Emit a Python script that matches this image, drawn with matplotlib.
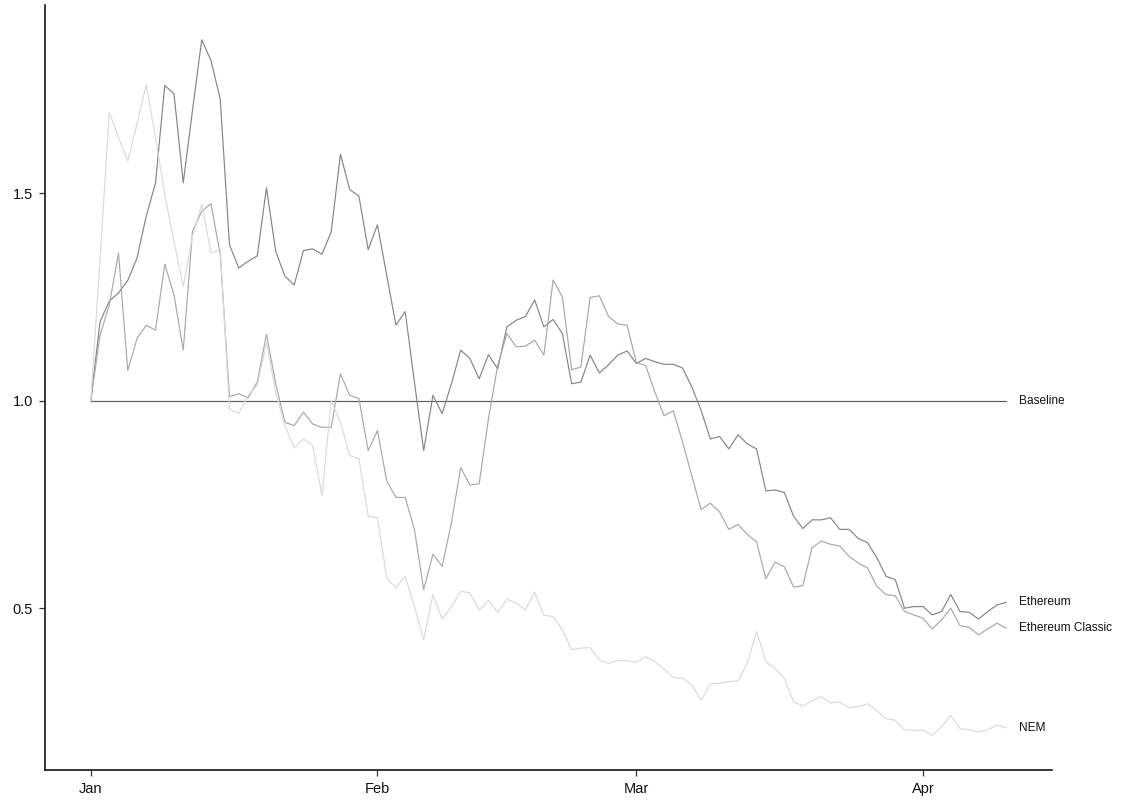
import numpy as np
import pandas as pd
import matplotlib
matplotlib.use('Agg')
import matplotlib.pyplot as plt
import matplotlib.dates as mdates

plt.rcParams['font.family'] = ['Liberation Sans', 'DejaVu Sans']

# daily values relative to 1 Jan 2018
dates = pd.date_range('2018-01-01', periods=100, freq='D')

ethereum = [
    1.0, 1.19, 1.24, 1.26, 1.29, 1.344, 1.445, 1.525, 1.76, 1.74,
    1.525, 1.70, 1.87, 1.82, 1.727, 1.376, 1.32, 1.336, 1.349, 1.513,
    1.36, 1.30, 1.279, 1.362, 1.366, 1.353, 1.407, 1.594, 1.509, 1.493,
    1.364, 1.424, 1.303, 1.182, 1.215, 1.045, 0.88, 1.013, 0.969, 1.041,
    1.122, 1.102, 1.053, 1.111, 1.077, 1.178, 1.194, 1.203, 1.243, 1.178,
    1.196, 1.162, 1.041, 1.045, 1.11, 1.067, 1.087, 1.11, 1.12, 1.09,
    1.102, 1.094, 1.088, 1.088, 1.079, 1.033, 0.977, 0.908, 0.914, 0.884,
    0.918, 0.896, 0.884, 0.783, 0.785, 0.779, 0.722, 0.692, 0.713, 0.713,
    0.718, 0.69, 0.69, 0.668, 0.658, 0.622, 0.577, 0.569, 0.50, 0.504,
    0.504, 0.484, 0.492, 0.533, 0.492, 0.49, 0.474, 0.492, 0.508, 0.514,
]

ethereum_classic = [
    1.0, 1.158, 1.231, 1.356, 1.073, 1.15, 1.182, 1.17, 1.329, 1.255,
    1.122, 1.408, 1.457, 1.475, 1.352, 1.01, 1.017, 1.007, 1.045, 1.16,
    1.041, 0.948, 0.94, 0.973, 0.944, 0.936, 0.936, 1.065, 1.013, 1.005,
    0.88, 0.928, 0.807, 0.767, 0.767, 0.69, 0.545, 0.63, 0.601, 0.706,
    0.839, 0.797, 0.80, 0.956, 1.085, 1.162, 1.13, 1.132, 1.146, 1.11,
    1.291, 1.25, 1.075, 1.081, 1.249, 1.253, 1.203, 1.185, 1.182, 1.092,
    1.085, 1.021, 0.964, 0.976, 0.90, 0.819, 0.738, 0.753, 0.732, 0.69,
    0.702, 0.678, 0.66, 0.571, 0.611, 0.60, 0.551, 0.554, 0.646, 0.662,
    0.654, 0.65, 0.625, 0.609, 0.597, 0.553, 0.533, 0.53, 0.492, 0.484,
    0.476, 0.45, 0.472, 0.50, 0.458, 0.454, 0.436, 0.45, 0.464, 0.452,
]

nem = [
    1.0, 1.34, 1.695, 1.634, 1.578, 1.667, 1.762, 1.634, 1.497, 1.384,
    1.275, 1.396, 1.473, 1.356, 1.364, 0.98, 0.969, 1.013, 1.037, 1.14,
    1.02, 0.94, 0.886, 0.908, 0.892, 0.771, 1.0, 0.948, 0.868, 0.86,
    0.722, 0.718, 0.573, 0.549, 0.577, 0.504, 0.424, 0.533, 0.474, 0.504,
    0.541, 0.537, 0.495, 0.519, 0.49, 0.522, 0.512, 0.496, 0.539, 0.483,
    0.48, 0.448, 0.40, 0.404, 0.405, 0.375, 0.367, 0.374, 0.374, 0.37,
    0.383, 0.371, 0.353, 0.333, 0.331, 0.315, 0.278, 0.317, 0.319, 0.323,
    0.325, 0.367, 0.444, 0.371, 0.355, 0.331, 0.274, 0.265, 0.277, 0.287,
    0.272, 0.274, 0.26, 0.263, 0.27, 0.253, 0.234, 0.23, 0.207, 0.206,
    0.206, 0.194, 0.214, 0.242, 0.21, 0.207, 0.202, 0.207, 0.218, 0.212,
]

baseline = [1.0] * len(dates)

series_names = ['Baseline', 'Ethereum', 'Ethereum Classic', 'NEM']
series_values = [baseline, ethereum, ethereum_classic, nem]
series_colors = ['#5e5e5e', '#858585', '#a8a8a8', '#dadada']

tick_dates = pd.to_datetime(['2018-01-01', '2018-02-01', '2018-03-01', '2018-04-01'])
tick_labels = ['Jan', 'Feb', 'Mar', 'Apr']
y_ticks = [0.5, 1.0, 1.5]
y_tick_labels = ['0.5', '1.0', '1.5']

fig = plt.figure(figsize=(11.48, 8.06), dpi=100)
ax = fig.add_axes([0.0392, 0.0447, 0.8772, 0.9491])

for name, vals, col in zip(series_names, series_values, series_colors):
    ax.plot(dates, vals, color=col, linewidth=0.85)
    ax.annotate(name, xy=(dates[-1], vals[-1]), xytext=(9, 0),
                textcoords='offset points', va='center', ha='left',
                fontsize=8.6, color='#111111')

# ggplot-like 5% expansion
x0 = mdates.date2num(dates[0])
x1 = mdates.date2num(dates[-1])
pad = (x1 - x0) * 0.05
ax.set_xlim(x0 - pad, x1 + pad)
all_vals = np.concatenate([ethereum, ethereum_classic, nem])
ypad = (all_vals.max() - all_vals.min()) * 0.05
ax.set_ylim(all_vals.min() - ypad, all_vals.max() + ypad)

ax.set_xticks(tick_dates)
ax.set_xticklabels(tick_labels)
ax.set_yticks(y_ticks)
ax.set_yticklabels(y_tick_labels)

for side in ['top', 'right']:
    ax.spines[side].set_visible(False)
for side in ['left', 'bottom']:
    ax.spines[side].set_linewidth(1.1)
    ax.spines[side].set_color('black')
ax.tick_params(axis='both', length=4.5, width=0.9, color='#333333',
               labelsize=10.5, labelcolor='#111111', pad=4)

fig.savefig('out.png', dpi=100)
